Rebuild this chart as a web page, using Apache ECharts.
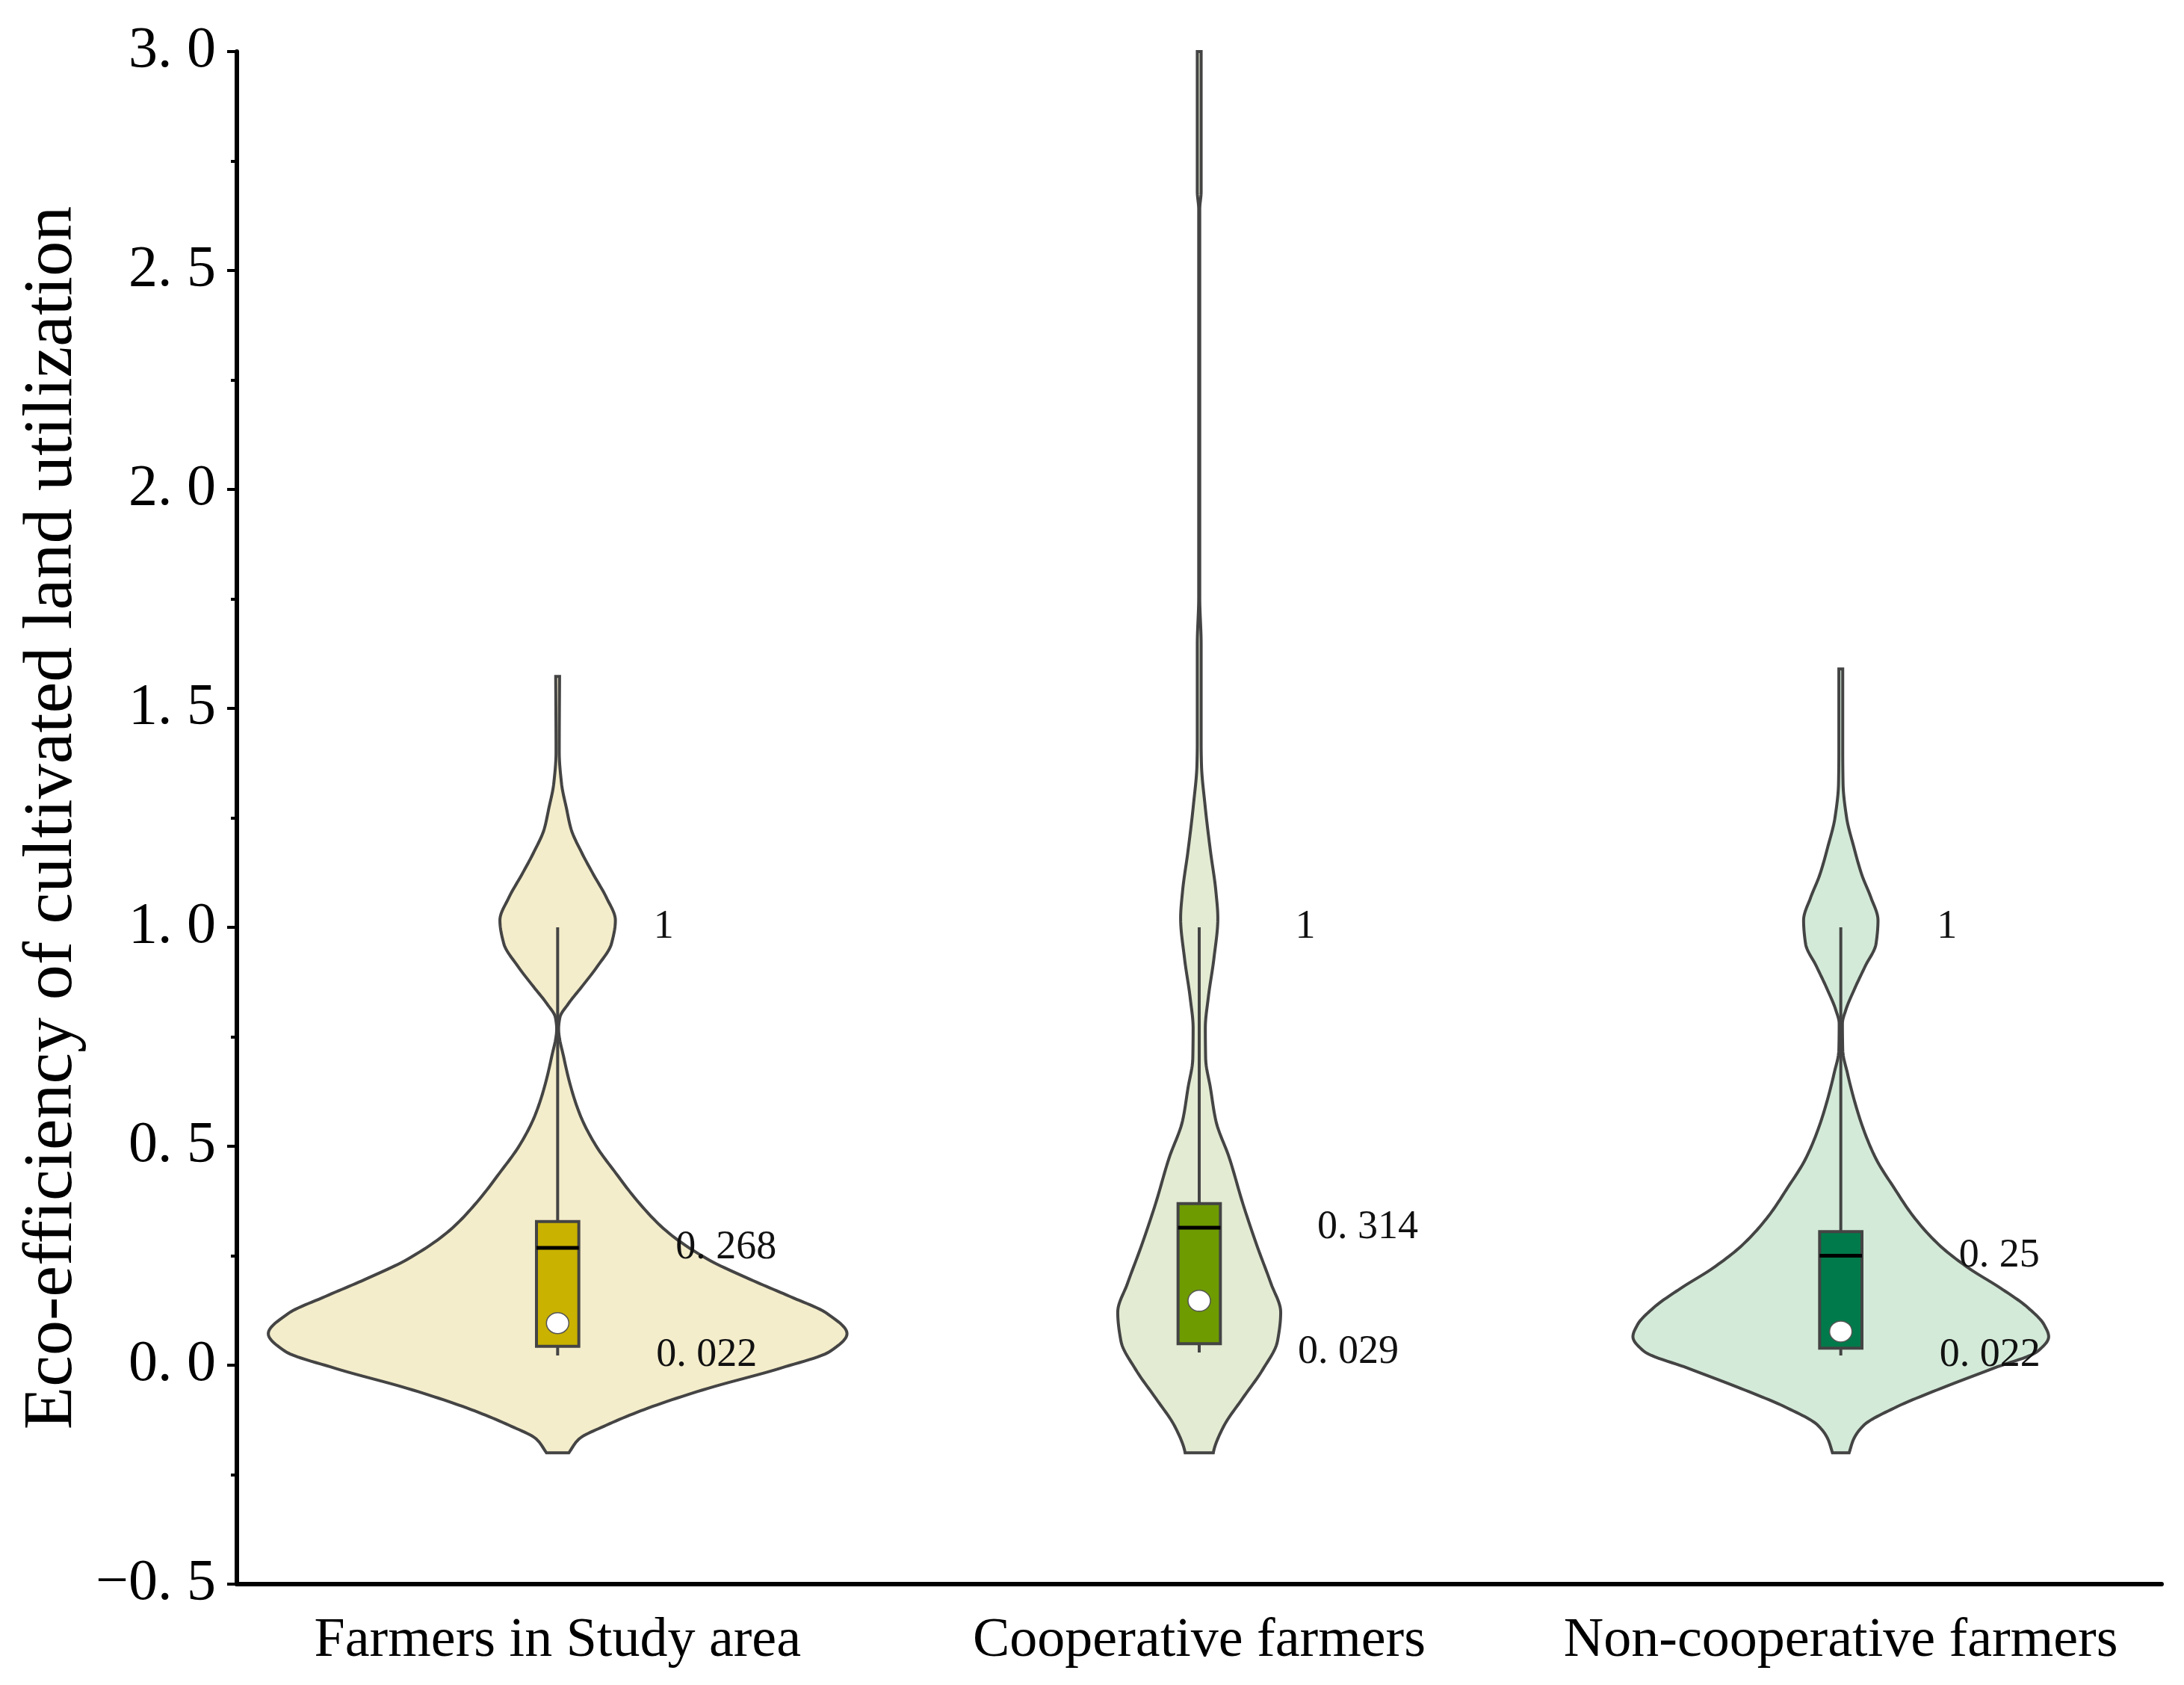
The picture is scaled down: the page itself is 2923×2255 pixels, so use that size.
<!DOCTYPE html>
<html>
<head>
<meta charset="utf-8">
<script src="https://cdn.jsdelivr.net/npm/echarts@6.0.0/dist/echarts.min.js"></script>
<style>
html, body { margin: 0; padding: 0; background: #fff; }
#main { width: 2923px; height: 2255px; }
</style>
</head>
<body>
<div id="main"></div>
<script>
var categories = ['Farmers in Study area', 'Cooperative farmers', 'Non-cooperative farmers'];

// violin outlines: value and half width (% of category band)
var violinY1 = [-0.2, -0.169, -0.137, -0.098, -0.053, -0.007, 0.032, 0.072, 0.118, 0.157, 0.196, 0.242, 0.307, 0.372, 0.438, 0.503, 0.568, 0.633, 0.7, 0.768, 0.794, 0.826, 0.865, 0.911, 0.963, 1.016, 1.068, 1.12, 1.172, 1.224, 1.27, 1.329, 1.4, 1.573];
var violinW1 = [1.75, 3.3, 7.6, 14.1, 23.4, 34.7, 42.5, 45.1, 42.0, 36.2, 30.0, 23.4, 16.9, 12.6, 9.1, 5.9, 3.6, 2.1, 1.0, 0.15, 0.35, 1.7, 3.8, 6.2, 8.4, 9.0, 7.6, 5.6, 3.7, 2.1, 1.4, 0.6, 0.25, 0.3];

var violinY2 = [-0.2, -0.193, -0.14, -0.075, -0.01, 0.055, 0.121, 0.186, 0.277, 0.369, 0.473, 0.558, 0.633, 0.701, 0.77, 0.838, 0.93, 1.021, 1.082, 1.174, 1.28, 1.372, 1.418, 1.647, 1.753, 2.64, 2.68, 3.0];
var violinW2 = [2.2, 2.3, 3.8, 6.8, 9.9, 12.2, 12.7, 11.2, 8.9, 6.8, 4.7, 2.6, 1.75, 1.0, 0.95, 1.4, 2.3, 2.9, 2.6, 1.75, 0.9, 0.35, 0.3, 0.3, 0.08, 0.08, 0.3, 0.3];

var violinY3 = [-0.2, -0.169, -0.137, -0.098, -0.053, -0.007, 0.032, 0.065, 0.092, 0.131, 0.176, 0.222, 0.275, 0.34, 0.405, 0.471, 0.536, 0.6, 0.666, 0.72, 0.78, 0.812, 0.858, 0.911, 0.963, 1.016, 1.068, 1.119, 1.185, 1.251, 1.329, 1.4, 1.59];
var violinW3 = [1.3, 2.0, 3.6, 8.3, 15.6, 23.8, 30.7, 32.4, 31.7, 29.2, 24.9, 19.9, 15.3, 11.3, 8.3, 5.5, 3.6, 2.2, 1.05, 0.3, 0.25, 0.8, 2.1, 3.8, 5.5, 5.8, 4.7, 3.3, 2.0, 0.9, 0.35, 0.3, 0.3];

// box plot summary
var q1 = [0.043, 0.049, 0.039];
var q3 = [0.328, 0.369, 0.305];
var medians = [0.268, 0.314, 0.25];
var whiskerLow = [0.022, 0.029, 0.022];
var whiskerHigh = [1, 1, 1];
var means = [0.096, 0.147, 0.077];

var violinY = [violinY1, violinY2, violinY3];
var violinW = [violinW1, violinW2, violinW3];
var violinColors = ['#F4EDCB', '#E3EBD3', '#D3EAD8'];
var boxColors = ['#C9B200', '#6E9B00', '#007A4A'];
var serif = '"Liberation Serif", "DejaVu Serif", serif';

function fmt(v) {
  return String(v).replace('.', '. ');
}

// monotone cubic (Fritsch-Carlson) so the outline does not overshoot
function densify(xs, ys) {
  var n = xs.length, d = [], m = [];
  for (var k = 0; k < n - 1; k++) d.push((ys[k + 1] - ys[k]) / (xs[k + 1] - xs[k]));
  m[0] = d[0];
  m[n - 1] = d[n - 2];
  for (k = 1; k < n - 1; k++) {
    if (d[k - 1] * d[k] <= 0) m[k] = 0;
    else {
      var h0 = xs[k] - xs[k - 1], h1 = xs[k + 1] - xs[k];
      var w1 = 2 * h1 + h0, w2 = h1 + 2 * h0;
      m[k] = (w1 + w2) / (w1 / d[k - 1] + w2 / d[k]);
    }
  }
  var out = [];
  for (k = 0; k < n - 1; k++) {
    var h = xs[k + 1] - xs[k];
    for (var s = 0; s < 12; s++) {
      var t = s / 12, t2 = t * t, t3 = t2 * t;
      var v = (2 * t3 - 3 * t2 + 1) * ys[k] + (t3 - 2 * t2 + t) * h * m[k] +
        (-2 * t3 + 3 * t2) * ys[k + 1] + (t3 - t2) * h * m[k + 1];
      out.push([xs[k] + t * h, Math.max(0, v)]);
    }
  }
  out.push([xs[n - 1], ys[n - 1]]);
  return out;
}

function renderViolin(params, api) {
  var i = api.value(0);
  var band = api.size([1, 0])[0];
  var cx = api.coord([i, 0])[0];
  var pts = densify(violinY[i], violinW[i]);
  var left = [], right = [];
  pts.forEach(function (p) {
    var py = api.coord([i, p[0]])[1];
    var hw = p[1] / 100 * band;
    left.push([cx - hw, py]);
    right.unshift([cx + hw, py]);
  });
  return {
    type: 'polygon',
    shape: { points: left.concat(right) },
    style: { fill: violinColors[i], stroke: '#444', lineWidth: 4 }
  };
}

function renderBox(params, api) {
  var i = api.value(0);
  var band = api.size([1, 0])[0];
  var half = band * 0.033;
  var top = api.coord([i, api.value(2)]);
  var bot = api.coord([i, api.value(1)]);
  var med = api.coord([i, api.value(3)]);
  var lo = api.coord([i, api.value(4)]);
  var hi = api.coord([i, api.value(5)]);
  var mn = api.coord([i, api.value(6)]);
  var cx = top[0];
  return {
    type: 'group',
    children: [
      { type: 'line', shape: { x1: cx, y1: lo[1], x2: cx, y2: hi[1] }, style: { stroke: '#444', lineWidth: 4 } },
      { type: 'rect', shape: { x: cx - half, y: top[1], width: half * 2, height: bot[1] - top[1] },
        style: { fill: boxColors[i], stroke: '#444', lineWidth: 4 } },
      { type: 'line', shape: { x1: cx - half, y1: med[1], x2: cx + half, y2: med[1] }, style: { stroke: '#000', lineWidth: 5 } },
      { type: 'ellipse', shape: { cx: cx, cy: mn[1], rx: 15, ry: 14 }, style: { fill: '#fff', stroke: '#555', lineWidth: 1.5 } }
    ]
  };
}

function renderNotes(params, api) {
  var i = api.value(0);
  var hi = api.coord([i, api.value(1)]);
  var med = api.coord([i, api.value(2)]);
  var lo = api.coord([i, api.value(3)]);
  var font = { fontFamily: serif, fontSize: 54, fill: '#111', verticalAlign: 'middle' };
  return {
    type: 'group',
    children: [
      { type: 'text', x: hi[0] + 142, y: hi[1], style: Object.assign({ text: fmt(api.value(1)), align: 'center' }, font) },
      { type: 'text', x: med[0] + 158, y: med[1], style: Object.assign({ text: fmt(api.value(2)), align: 'left' }, font) },
      { type: 'text', x: lo[0] + 132, y: lo[1], style: Object.assign({ text: fmt(api.value(3)), align: 'left' }, font) }
    ]
  };
}

var boxData = categories.map(function (c, i) {
  return [i, q1[i], q3[i], medians[i], whiskerLow[i], whiskerHigh[i], means[i]];
});
var noteData = categories.map(function (c, i) {
  return [i, whiskerHigh[i], medians[i], whiskerLow[i]];
});

var chart = echarts.init(document.getElementById('main'));
var option = {
  animation: false,
  backgroundColor: '#fff',
  grid: { left: 317, right: 30, top: 69, bottom: 135 },
  xAxis: {
    type: 'category',
    data: categories,
    boundaryGap: true,
    axisLine: { onZero: false, lineStyle: { color: '#000', width: 6 } },
    axisTick: { alignWithLabel: true, length: 22, lineStyle: { color: '#000', width: 3 } },
    axisLabel: { interval: 0, color: '#000', fontFamily: serif, fontSize: 74, margin: 40 },
    splitLine: { show: false }
  },
  yAxis: {
    type: 'value',
    min: -0.5,
    max: 3,
    interval: 0.5,
    name: 'Eco-efficiency of cultivated land utilization',
    nameLocation: 'middle',
    nameGap: 200,
    nameTextStyle: { color: '#000', fontFamily: serif, fontSize: 94 },
    axisLine: { show: true, lineStyle: { color: '#000', width: 6 } },
    axisTick: { show: true, length: 13, lineStyle: { color: '#000', width: 4 } },
    minorTick: { show: true, splitNumber: 2, length: 8, lineStyle: { color: '#000', width: 4 } },
    axisLabel: {
      color: '#000', fontFamily: serif, fontSize: 78, margin: 28,
      formatter: function (v) {
        return (v < 0 ? '\u2212' : '') + Math.abs(v).toFixed(1).replace('.', '. ');
      }
    },
    splitLine: { show: false },
    minorSplitLine: { show: false }
  },
  series: [
    { type: 'custom', renderItem: renderViolin, data: [[0], [1], [2]], z: 2 },
    { type: 'custom', renderItem: renderBox, data: boxData, z: 3 },
    { type: 'custom', renderItem: renderNotes, data: noteData, z: 4 }
  ]
};
chart.setOption(option);
</script>
</body>
</html>
